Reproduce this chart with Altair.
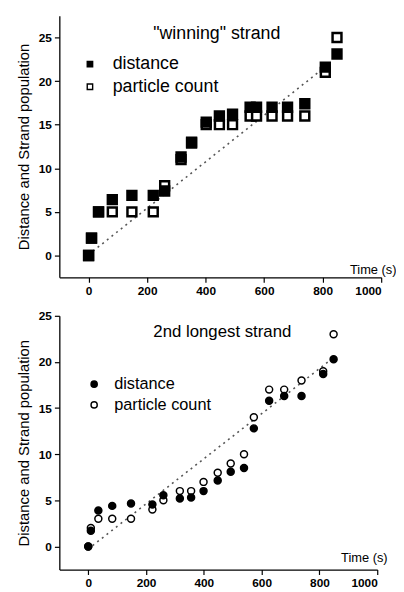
import altair as alt
import pandas as pd

# ---------------- data ----------------
series_names = ["distance", "particle count"]

top_time = [0, 10, 34, 81, 148, 221, 260, 316, 352, 402, 447, 492, 552, 574, 627, 680, 739, 809, 849]
top_distance = [0, 2, 5, 6.4, 6.9, 6.9, 7.4, 11.3, 12.9, 15.3, 16.0, 16.2, 17.0, 17.0, 17.0, 17.0, 17.4, 21.6, 23.1]
top_particles = [0, 2, 5, 5, 5, 5, 8, 11, 13, 15, 15, 15, 16, 16, 16, 16, 16, 21, 25]
top_fit_time = [15, 800]
top_fit_value = [0.5, 21.4]

bottom_time = [0, 9, 35, 83, 148, 222, 260, 317, 356, 399, 448, 493, 539, 573, 626, 678, 738, 813, 849]
bottom_distance = [0, 1.7, 3.9, 4.4, 4.65, 4.55, 5.55, 5.2, 5.3, 6.0, 7.15, 8.1, 8.5, 12.8, 15.8, 16.3, 16.3, 18.7, 20.3]
bottom_particles = [0, 2, 3, 3, 3, 4, 5, 6, 6, 7, 8, 9, 10, 14, 17, 17, 18, 19, 23]
bottom_fit_time = [15, 850]
bottom_fit_value = [0.1, 20.5]

top_label = '"winning" strand'
bottom_label = "2nd longest strand"
x_title = "Time (s)"
y_title = "Distance and Strand population"

x_tick_values = [0, 100, 200, 300, 400, 500, 600, 700, 800, 900, 1000]
y_tick_values = [0, 2.5, 5, 7.5, 10, 12.5, 15, 17.5, 20, 22.5, 25]

FONT = "Liberation Sans, Arial, Helvetica, sans-serif"


def long_df(t, d, p):
    # particle count first so that the filled "distance" marks sit on top
    return pd.DataFrame({
        "time": list(t) + list(t),
        "value": list(p) + list(d),
        "series": [series_names[1]] * len(t) + [series_names[0]] * len(t),
    })


def panel(time, dist, part, fit_t, fit_v, label, label_x, label_y, label_size,
          shape, size, stroke_w, y_dom, width, height,
          leg_x, leg_y, leg_font, leg_sym, leg_row_pad, leg_off, title_x, title_y):
    df = long_df(time, dist, part)
    fit = pd.DataFrame({"time": fit_t, "value": fit_v})

    x_scale = alt.Scale(domain=[-100, 1000], nice=False, zero=False)
    y_scale = alt.Scale(domain=y_dom, nice=False, zero=False)

    x_axis = alt.Axis(
        values=x_tick_values,
        labelExpr="datum.value % 200 == 0 ? datum.label : ''",
        format="d",
        tickSize={"condition": {"test": "datum.value % 200 != 0", "value": 3}, "value": 5},
        title=x_title, titleAngle=0, titleAlign="right", titleBaseline="alphabetic",
        titleX=title_x, titleY=title_y, titleFontSize=13, titleFontWeight="normal",
        labelPadding=3,
    )
    y_axis = alt.Axis(
        values=y_tick_values,
        labelExpr="datum.value % 5 == 0 ? datum.label : ''",
        tickSize={"condition": {"test": "datum.value % 5 != 0", "value": 3}, "value": 5},
        title=y_title, titleFontSize=15, titleFontWeight="normal", titlePadding=7,
        labelPadding=3,
    )

    legend = alt.Legend(
        orient="none", legendX=leg_x, legendY=leg_y, title=None,
        labelFontSize=leg_font, labelFont=FONT, labelColor="black",
        symbolSize=leg_sym, symbolStrokeWidth=1.4, rowPadding=leg_row_pad,
        labelOffset=leg_off, padding=0,
    )

    line = alt.Chart(fit).mark_line(
        color="#555555", strokeDash=[2, 4], strokeWidth=1.6
    ).encode(
        x=alt.X("time:Q", scale=x_scale, axis=x_axis),
        y=alt.Y("value:Q", scale=y_scale, axis=y_axis),
    )

    pts = alt.Chart(df).mark_point(
        size=size, filled=True, strokeWidth=stroke_w, opacity=1
    ).encode(
        x=alt.X("time:Q", scale=x_scale, axis=x_axis),
        y=alt.Y("value:Q", scale=y_scale, axis=y_axis),
        fill=alt.Fill(
            "series:N",
            scale=alt.Scale(domain=series_names, range=["black", "white"]),
            legend=legend,
        ),
        stroke=alt.Stroke(
            "series:N",
            scale=alt.Scale(domain=series_names, range=["black", "black"]),
            legend=legend,
        ),
        shape=alt.Shape(
            "series:N",
            scale=alt.Scale(domain=series_names, range=[shape, shape]),
            legend=legend,
        ),
        order=alt.Order("idx:Q"),
    ).transform_window(idx="row_number()")

    txt = alt.Chart(pd.DataFrame({"t": [label]})).mark_text(
        font=FONT, fontSize=label_size, color="black", align="center", baseline="alphabetic"
    ).encode(
        x=alt.X(datum=label_x),
        y=alt.Y(datum=label_y),
        text="t:N",
    )

    return alt.layer(line, pts, txt).properties(width=width, height=height)


top = panel(top_time, top_distance, top_particles, top_fit_time, top_fit_value,
            top_label, 438, 24.8, 18, "square", 81, 2.5, [-2.5, 27.5], 326, 265,
            22, 40, 18, 30, 5, 14, 341, -4)
bottom = panel(bottom_time, bottom_distance, bottom_particles, bottom_fit_time, bottom_fit_value,
               bottom_label, 464, 22.7, 17, "circle", 50, 1.5, [-2.5, 25], 322, 257,
               27, 61, 16.5, 40, 4, 12, 332, -8)

chart = alt.vconcat(top, bottom, spacing=14).resolve_scale(
    fill="independent", stroke="independent", shape="independent"
).properties(
    padding={"left": 8, "top": 4, "right": 0, "bottom": 2}
).configure_view(stroke=None).configure_axis(
    grid=False, domainColor="black", domainWidth=1.3, tickColor="black", tickWidth=1.2,
    labelFont=FONT, titleFont=FONT, labelFontSize=12, labelFontWeight="bold",
    labelColor="black", titleColor="black",
)

chart.save("out.html", embed_options={"renderer": "svg", "actions": False})
